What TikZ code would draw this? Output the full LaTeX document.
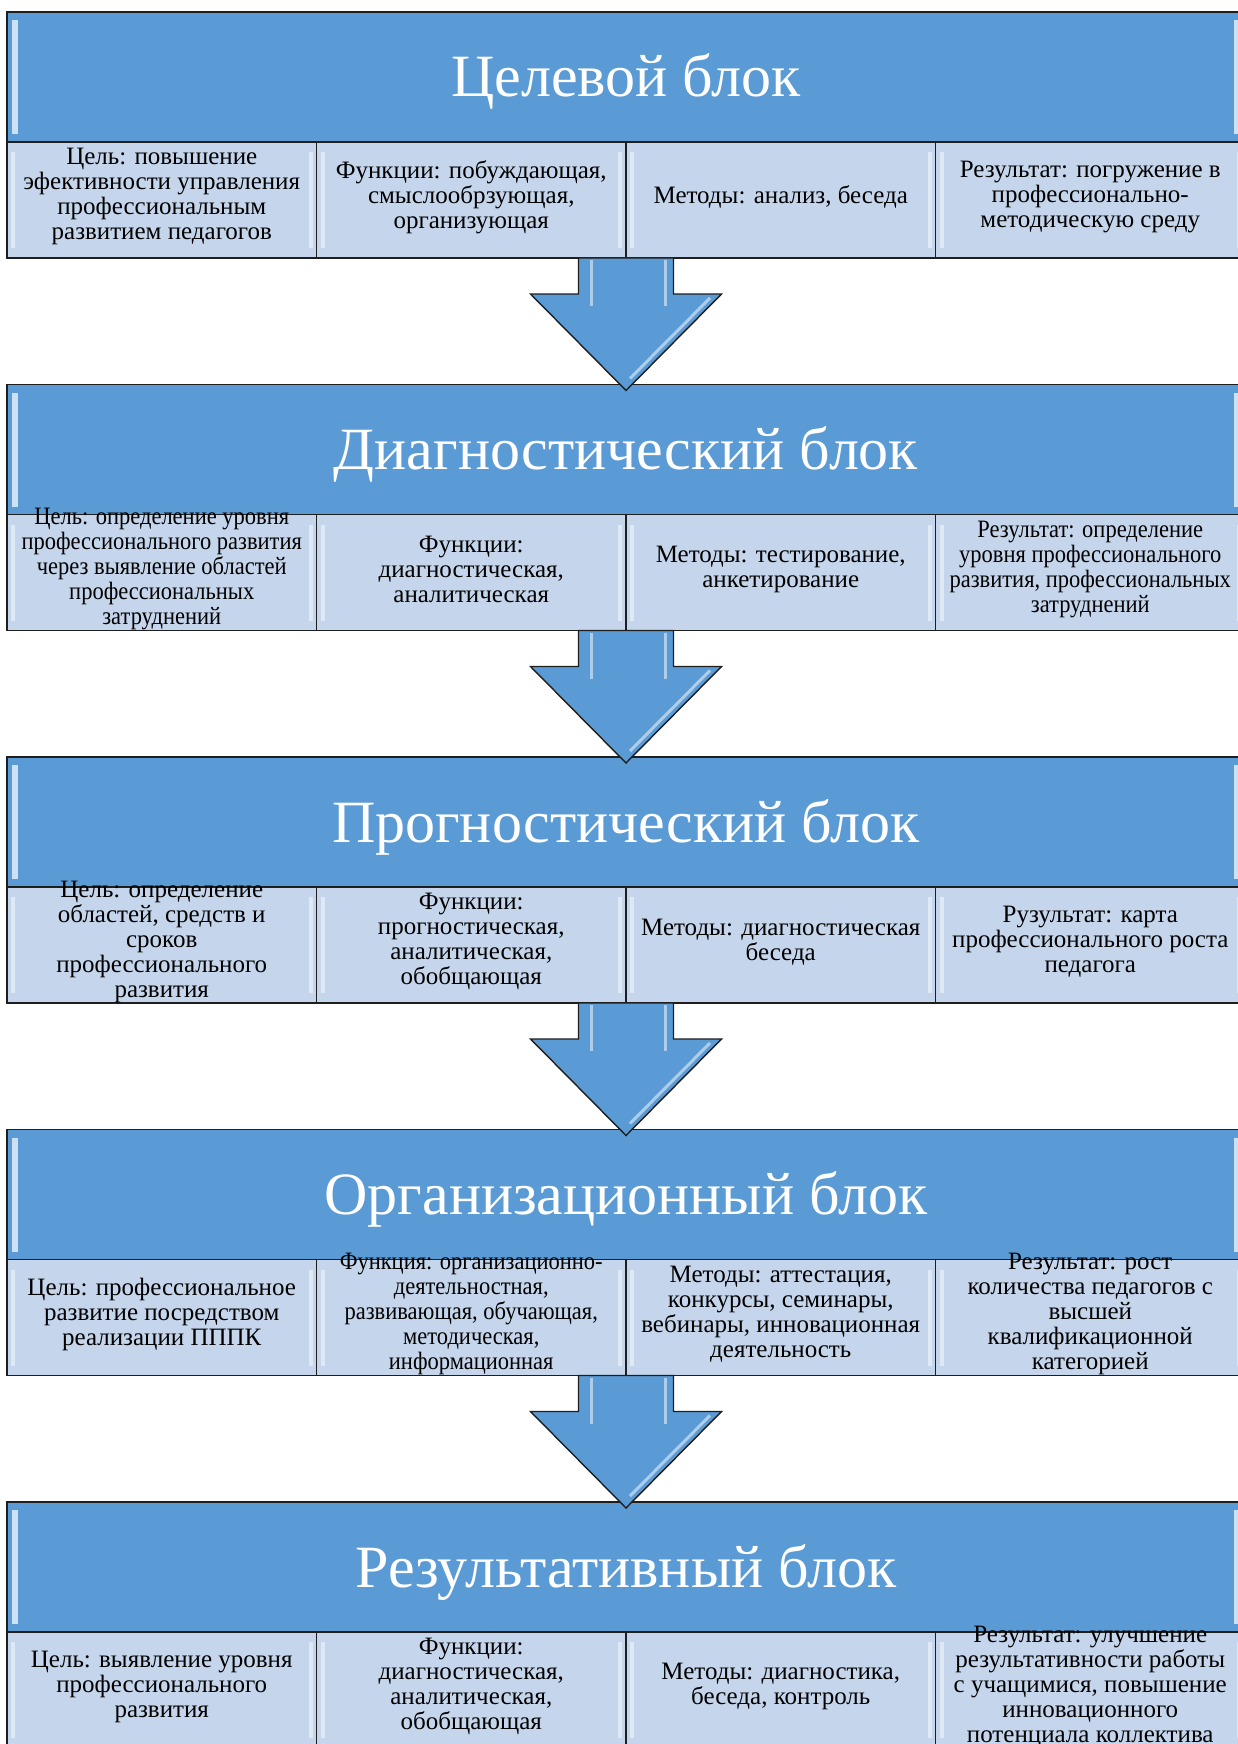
\documentclass[tikz,border=0pt]{standalone}
\usepackage{fontspec}
\setmainfont{Liberation Serif}
\newfontfamily\narrowserif[FakeStretch=0.9]{Liberation Serif}
\usetikzlibrary{positioning}
\usetikzlibrary{calc}

\definecolor{headblue}{RGB}{91,155,213}
\definecolor{cellblue}{RGB}{197,214,236}
\definecolor{edgegray}{RGB}{30,30,30}

\newcommand{\cellbox}[1]{\parbox[c][0pt][c]{302pt}{\centering #1}}

\begin{document}
\begin{tikzpicture}[
    x=1pt, y=1pt,
    node distance=126.5pt, % gap between the blocks
    ]
% -------------------------------------------------
\tikzset{
  base/.style={draw=edgegray, line width=1.6pt, inner sep=0pt, outer sep=0pt},
  head/.style={base, fill=headblue, minimum width=1238pt, minimum height=130pt,
    text=white, font=\fontsize{60}{60}\selectfont, text height=40pt, text depth=0pt,
    path picture={
      \fill[headblue!30!white] ([shift={(5,-8)}]path picture bounding box.north west) rectangle ([shift={(11,8)}]path picture bounding box.south west);
      \fill[headblue!30!white] ([shift={(-11,-8)}]path picture bounding box.north east) rectangle ([shift={(-5,8)}]path picture bounding box.south east);
    }},
  cell/.style={base, fill=cellblue, minimum width=309.5pt, minimum height=116pt,
    font=\fontsize{25}{25}\selectfont,
    path picture={
      \fill[white!45!cellblue] ([shift={(4,-10)}]path picture bounding box.north west) rectangle ([shift={(8,10)}]path picture bounding box.south west);
      \fill[white!45!cellblue] ([shift={(-8,-10)}]path picture bounding box.north east) rectangle ([shift={(-4,10)}]path picture bounding box.south east);
    }},
  thin/.style={cell, font=\narrowserif\fontsize{25}{25}\selectfont},
  gloss/.style={draw=white!50!headblue, line width=3pt},
  downarrow/.style={draw=edgegray, line width=1.4pt, fill=headblue,
    path picture={
      \draw[gloss] ([shift={(-35,-2)}]path picture bounding box.north) -- ++(0,-46);
      \draw[gloss] ([shift={(39,-2)}]path picture bounding box.north) -- ++(0,-46);
      \draw[gloss] ([shift={(84,-40)}]path picture bounding box.north) -- ([shift={(4,12)}]path picture bounding box.south);
    }}
}
\useasboundingbox (0,0) rectangle (1238,-1744);
% -------------------------------------------------
% Целевой блок
\node[head, anchor=north west] (h1) at (7,-12) {Целевой блок};
\node[cell, anchor=north west] (c11) at (h1.south west) {\cellbox{Цель: повышение\\ эфективности управления\\ профессиональным\\ развитием педагогов}};
\node[cell, right=0pt of c11] (c12) {\cellbox{Функции: побуждающая,\\ смыслообрзующая,\\ организующая}};
\node[cell, right=0pt of c12] (c13) {\cellbox{Методы: анализ, беседа}};
\node[cell, right=0pt of c13] (c14) {\cellbox{Результат: погружение в\\ профессионально-\\ методическую среду}};

% Диагностический блок
\node[head, below=of c11.south west, anchor=north west] (h2) {Диагностический блок};
\node[thin, anchor=north west] (c21) at (h2.south west) {\cellbox{Цель: определение уровня\\ профессионального развития\\ через выявление областей\\ профессиональных\\ затруднений}};
\node[cell, right=0pt of c21] (c22) {\cellbox{Функции:\\ диагностическая,\\ аналитическая}};
\node[cell, right=0pt of c22] (c23) {\cellbox{Методы: тестирование,\\ анкетирование}};
\node[thin, right=0pt of c23] (c24) {\cellbox{Результат: определение\\ уровня профессионального\\ развития, профессиональных\\ затруднений}};

% Прогностический блок
\node[head, below=of c21.south west, anchor=north west] (h3) {Прогностический блок};
\node[cell, anchor=north west] (c31) at (h3.south west) {\cellbox{Цель: определение\\ областей, средств и\\ сроков\\ профессионального\\ развития}};
\node[cell, right=0pt of c31] (c32) {\cellbox{Функции:\\ прогностическая,\\ аналитическая,\\ обобщающая}};
\node[cell, right=0pt of c32] (c33) {\cellbox{Методы: диагностическая\\ беседа}};
\node[cell, right=0pt of c33] (c34) {\cellbox{Рузультат: карта\\ профессионального роста\\ педагога}};

% Организационный блок
\node[head, below=of c31.south west, anchor=north west] (h4) {Организационный блок};
\node[cell, anchor=north west] (c41) at (h4.south west) {\cellbox{Цель: профессиональное\\ развитие посредством\\ реализации ПППК}};
\node[thin, right=0pt of c41] (c42) {\cellbox{Функция: организационно-\\ деятельностная,\\ развивающая, обучающая,\\ методическая,\\ информационная}};
\node[cell, right=0pt of c42] (c43) {\cellbox{Методы: аттестация,\\ конкурсы, семинары,\\ вебинары, инновационная\\ деятельность}};
\node[cell, right=0pt of c43] (c44) {\cellbox{Результат: рост\\ количества педагогов с\\ высшей\\ квалификационной\\ категорией}};

% Результативный блок
\node[head, below=of c41.south west, anchor=north west] (h5) {Результативный блок};
\node[cell, anchor=north west] (c51) at (h5.south west) {\cellbox{Цель: выявление уровня\\ профессионального\\ развития}};
\node[cell, right=0pt of c51] (c52) {\cellbox{Функции:\\ диагностическая,\\ аналитическая,\\ обобщающая}};
\node[cell, right=0pt of c52] (c53) {\cellbox{Методы: диагностика,\\ беседа, контроль}};
\node[cell, right=0pt of c53] (c54) {\cellbox{Результат: улучшение\\ результативности работы\\ с учащимися, повышение\\ инновационного\\ потенциала коллектива}};

% arrows between the blocks
\draw[downarrow] ($(c12.south east)+(-47.5,0)$) -- ++(0,-36) -- ++(-48,0) -- ($(h2.north)+(0,-6)$) -- ($(c12.south east)+(95.5,-36)$) -- ++(-48,0) -- ($(c12.south east)+(47.5,0)$) -- cycle;
\draw[downarrow] ($(c22.south east)+(-47.5,0)$) -- ++(0,-36) -- ++(-48,0) -- ($(h3.north)+(0,-6)$) -- ($(c22.south east)+(95.5,-36)$) -- ++(-48,0) -- ($(c22.south east)+(47.5,0)$) -- cycle;
\draw[downarrow] ($(c32.south east)+(-47.5,0)$) -- ++(0,-36) -- ++(-48,0) -- ($(h4.north)+(0,-6)$) -- ($(c32.south east)+(95.5,-36)$) -- ++(-48,0) -- ($(c32.south east)+(47.5,0)$) -- cycle;
\draw[downarrow] ($(c42.south east)+(-47.5,0)$) -- ++(0,-36) -- ++(-48,0) -- ($(h5.north)+(0,-6)$) -- ($(c42.south east)+(95.5,-36)$) -- ++(-48,0) -- ($(c42.south east)+(47.5,0)$) -- cycle;

\end{tikzpicture}
\end{document}
